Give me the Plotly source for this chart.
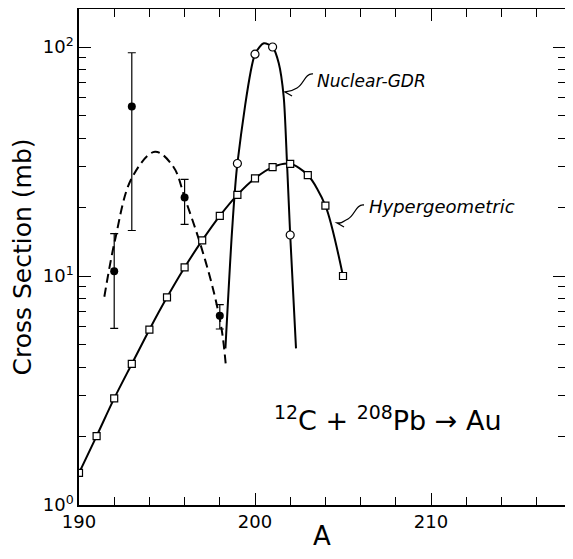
import plotly.graph_objects as go

# hypergeometric calculation (open squares)
hyp_a = list(range(190, 206))
hyp_sigma = [1.38, 2.0, 2.92, 4.13, 5.83, 8.07, 10.9, 14.3, 18.3, 22.6,
             26.7, 29.9, 30.9, 27.6, 20.3, 10.0]

# nuclear GDR calculation (open circles) and its curve
gdr_a = [199, 200, 201, 202]
gdr_sigma = [31.0, 93.0, 100.0, 15.1]
gdr_curve_a = [198.32, 198.70, 199.0, 200.0, 200.5, 201.0, 201.35,
               201.63, 201.82, 202.0, 202.33]
gdr_curve_sigma = [4.83, 15.9, 31.0, 93.0, 103.8, 100.0, 84.9,
                   60.7, 31.0, 15.1, 4.83]

# measured points with error bars
data_a = [192, 193, 196, 198]
data_sigma = [10.5, 55.0, 22.0, 6.7]
data_hi = [15.3, 94.4, 26.4, 7.5]
data_lo = [5.9, 15.8, 16.8, 5.87]

# dashed curve through the data
dash_a = [191.44, 192.05, 192.99, 194.32, 195.36, 196.02, 196.88, 197.63,
          198.11, 198.35]
dash_sigma = [8.12, 14.4, 26.7, 34.9, 30.0, 21.8, 13.9, 8.69, 5.81, 4.02]

x_ticks = [190, 200, 210]
y_ticks = [1, 10, 100]
y_ticktext = ['10<sup>0</sup>', '10<sup>1</sup>', '10<sup>2</sup>']

FONT = 'DejaVu Sans'

fig = go.Figure()

fig.add_trace(go.Scatter(x=dash_a, y=dash_sigma, mode='lines',
                         line=dict(color='black', width=2, dash='9px,5px', shape='spline'),
                         hoverinfo='skip'))

fig.add_trace(go.Scatter(x=gdr_curve_a, y=gdr_curve_sigma, mode='lines',
                         line=dict(color='black', width=2, shape='spline', smoothing=0.7),
                         hoverinfo='skip'))

fig.add_trace(go.Scatter(x=hyp_a, y=hyp_sigma, mode='lines+markers',
                         line=dict(color='black', width=2, shape='spline', smoothing=0.8),
                         marker=dict(symbol='square', size=7, color='white',
                                     line=dict(color='black', width=1.2))))

fig.add_trace(go.Scatter(x=gdr_a, y=gdr_sigma, mode='markers',
                         marker=dict(symbol='circle', size=8, color='white',
                                     line=dict(color='black', width=1.2))))

fig.add_trace(go.Scatter(
    x=data_a, y=data_sigma, mode='markers',
    marker=dict(symbol='circle', size=8, color='black'),
    error_y=dict(type='data', symmetric=False,
                 array=[h - s for h, s in zip(data_hi, data_sigma)],
                 arrayminus=[s - l for s, l in zip(data_sigma, data_lo)],
                 color='black', thickness=1.2, width=4)))

# the page body adds an 8px margin, so the figure is sized to fit inside it
OFF = 8
FW, FH = 573 - 2 * OFF, 559 - 2 * OFF
L, T, B = 79 - OFF, 9 - OFF, 505 - OFF
W, H = FW - L, B - T


def pp(x, y):
    # screen pixel -> paper fraction
    return '%.4f,%.4f' % ((x - OFF - L) / W, (B - (y - OFF)) / H)


squiggles = [
    'M ' + pp(313, 74) + ' C ' + pp(305, 73) + ' ' + pp(304, 84) + ' ' + pp(297, 88)
    + ' S ' + pp(289, 91) + ' ' + pp(285, 92) + ' L ' + pp(292, 96),
    'M ' + pp(364, 205) + ' C ' + pp(356, 204) + ' ' + pp(355, 215) + ' ' + pp(348, 219)
    + ' S ' + pp(341, 223) + ' ' + pp(337, 223) + ' L ' + pp(344, 227),
]
for p in squiggles:
    fig.add_shape(type='path', path=p, xref='paper', yref='paper',
                  line=dict(color='black', width=1.3))

fig.add_annotation(x=0.486, y=0.880, xref='paper', yref='paper', xanchor='left',
                   text='<i>Nuclear-GDR</i>', showarrow=False,
                   font=dict(family=FONT, size=17, color='black'))
fig.add_annotation(x=0.593, y=0.601, xref='paper', yref='paper', xanchor='left',
                   text='<i>Hypergeometric</i>', showarrow=False,
                   font=dict(family=FONT, size=18, color='black'))
fig.add_annotation(x=0.636, y=0.135, xref='paper', yref='paper',
                   text='<sup>12</sup>C + <sup>208</sup>Pb \u2192 Au', showarrow=False,
                   font=dict(family=FONT, size=27, color='black'))

axis_common = dict(showline=True, linecolor='black', linewidth=1.5, mirror='allticks',
                   ticks='inside', ticklen=12, tickwidth=1.3, tickcolor='black',
                   showgrid=False, zeroline=False, automargin=False,
                   tickfont=dict(family=FONT, size=18, color='black'))

fig.update_xaxes(range=[190, 190 + W / 17.6], tickvals=x_ticks,
                 minor=dict(dtick=2, tick0=190, ticks='inside', ticklen=8,
                            tickwidth=1.3, tickcolor='black'),
                 title=dict(text='A', font=dict(family=FONT, size=26, color='black'),
                            standoff=13),
                 **axis_common)
fig.update_yaxes(type='log', range=[0, H / 229.0], tickvals=y_ticks, ticktext=y_ticktext,
                 minor=dict(tickvals=[2, 3, 4, 5, 6, 7, 8, 9, 20, 30, 40, 50, 60, 70, 80, 90],
                            ticks='inside', ticklen=7, tickwidth=1.3, tickcolor='black'),
                 title=dict(text='Cross Section (mb)',
                            font=dict(family=FONT, size=25, color='black'), standoff=4),
                 **axis_common)

fig.update_layout(width=FW, height=FH, showlegend=False,
                  margin=dict(l=L, r=0, t=T, b=FH - B),
                  plot_bgcolor='white', paper_bgcolor='white',
                  font=dict(family=FONT, color='black'))

fig.write_html('out.html')
